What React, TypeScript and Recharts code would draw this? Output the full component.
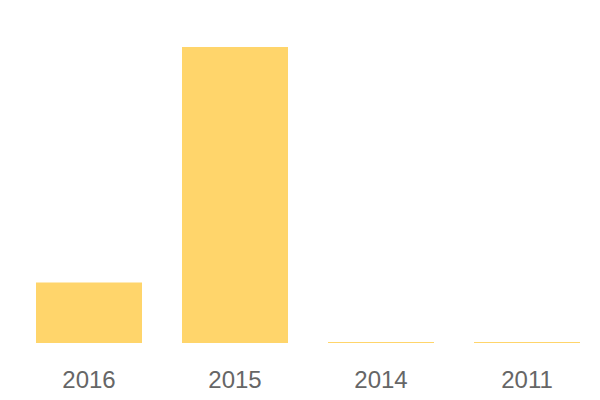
import React from "react";
import { BarChart, Bar, XAxis, YAxis } from "recharts";

const years = ["2016", "2015", "2014", "2011"];
const values = [1000, 4900, 15, 15];

const data = years.map((year, i) => ({ year, value: values[i] }));

export default function App() {
  return (
    <BarChart
      width={600}
      height={400}
      data={data}
      margin={{ top: 39, right: 8, bottom: 15, left: 8 }}
      barCategoryGap={20}
    >
      <XAxis
        dataKey="year"
        axisLine={false}
        tickLine={false}
        height={50}
        tickMargin={22}
        tick={{ fill: "#666666", fontSize: 24, fontFamily: "Liberation Sans, Arial, sans-serif" }}
      />
      <YAxis hide domain={[0, "dataMax"]} />
      <Bar dataKey="value" fill="#FFD56B" isAnimationActive={false} />
    </BarChart>
  );
}
